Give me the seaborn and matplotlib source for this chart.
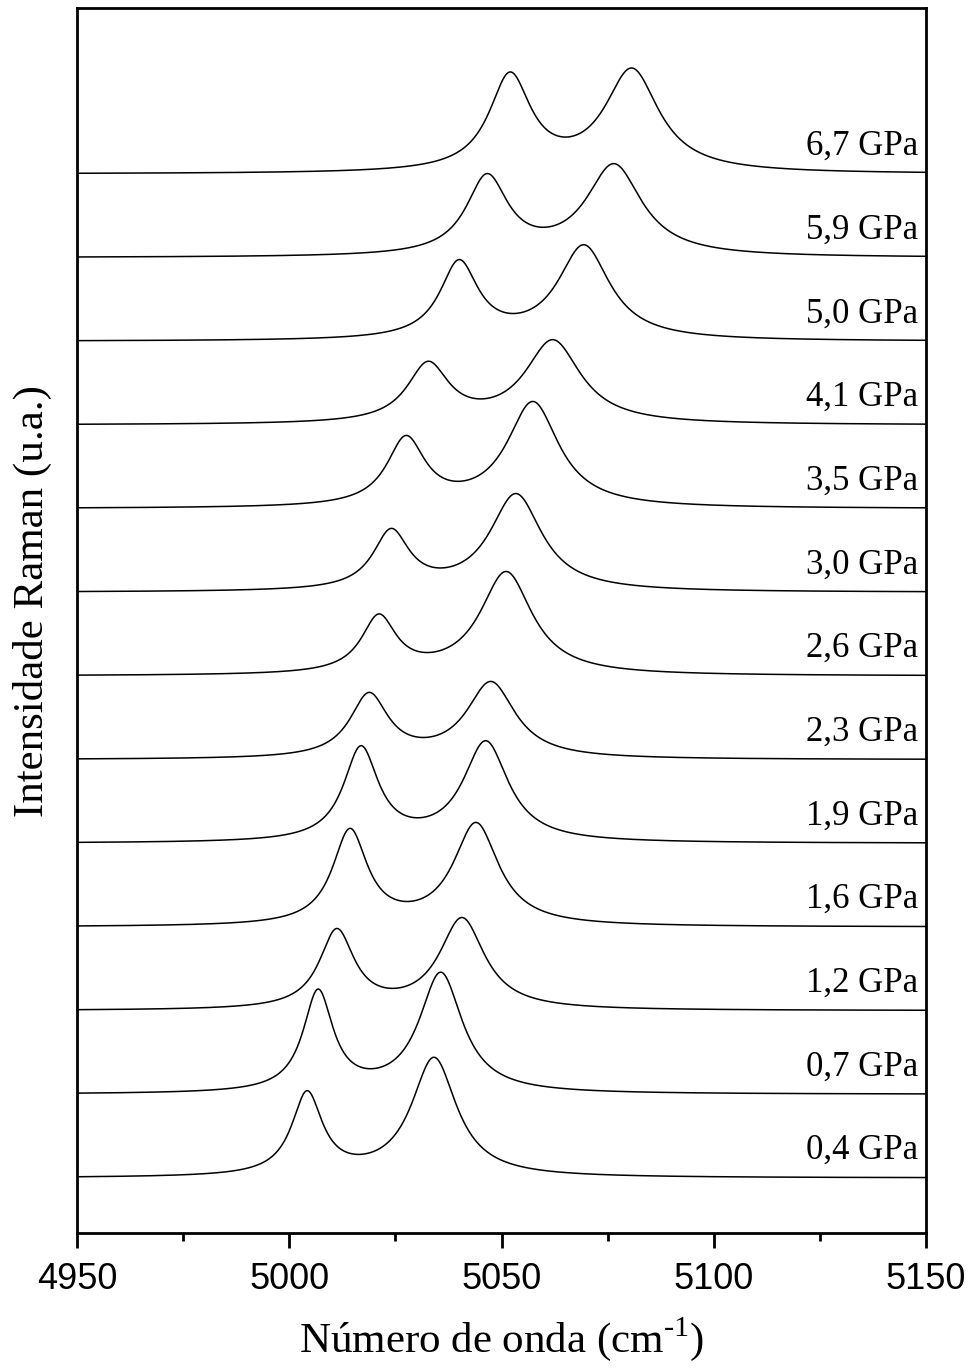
"""
Raman spectra under pressure: stacked plot of the two bands near 5000-5080 cm-1.
"""

import numpy as np
import pandas as pd
import matplotlib

matplotlib.use("Agg")
import matplotlib.pyplot as plt
import seaborn as sns
from matplotlib.ticker import MultipleLocator

# Pressures (GPa) and labels, bottom to top
pressures = [0.4, 0.7, 1.2, 1.6, 1.9, 2.3, 2.6, 3.0, 3.5, 4.1, 5.0, 5.9, 6.7]
labels = ["0,4 GPa", "0,7 GPa", "1,2 GPa", "1,6 GPa", "1,9 GPa", "2,3 GPa", "2,6 GPa",
          "3,0 GPa", "3,5 GPa", "4,1 GPa", "5,0 GPa", "5,9 GPa", "6,7 GPa"]

# Band 1 (lower wavenumber): centre (cm-1), amplitude (u.a.), half width (cm-1)
pos1 = [5004.2, 5006.8, 5011.2, 5014.3, 5016.9, 5018.8, 5021.1, 5024.0, 5027.5, 5032.7, 5040.0, 5046.6, 5052.0]
amp1 = [82, 100, 78, 94, 93, 63, 56, 58, 67, 58, 76, 78, 95]
wid1 = [4.4, 4.3, 5.0, 5.0, 5.0, 5.5, 5.0, 5.2, 5.5, 6.0, 5.5, 6.0, 6.0]

# Band 2 (higher wavenumber)
pos2 = [5034.1, 5035.7, 5040.7, 5044.0, 5046.3, 5047.5, 5051.1, 5053.4, 5057.4, 5062.1, 5069.4, 5076.5, 5080.7]
amp2 = [119, 120, 91, 102, 100, 76, 103, 97, 105, 83, 94, 91, 102]
wid2 = [6.5, 6.2, 6.5, 6.5, 6.5, 7.0, 7.5, 7.5, 7.5, 8.0, 7.5, 8.0, 7.8]

OFFSET0 = 55
STEP = 83.67


def lorentz(x, x0, a, g):
    return a / (1 + ((x - x0) / g) ** 2)


def build_frame():
    x = np.linspace(4950, 5150, 1601)
    frames = []
    for i, p in enumerate(pressures):
        y = lorentz(x, pos1[i], amp1[i], wid1[i]) + lorentz(x, pos2[i], amp2[i], wid2[i])
        frames.append(pd.DataFrame({"wn": x, "I": y + OFFSET0 + i * STEP, "P": p}))
    return pd.concat(frames, ignore_index=True)


sns.set_style("ticks")
plt.rcParams["font.family"] = ["Liberation Serif", "DejaVu Serif"]
plt.rcParams["mathtext.fontset"] = "custom"
plt.rcParams["mathtext.rm"] = "Liberation Serif"
plt.rcParams["text.color"] = "black"
plt.rcParams["axes.labelcolor"] = "black"
plt.rcParams["axes.edgecolor"] = "black"
plt.rcParams["xtick.color"] = "black"

df = build_frame()

fig = plt.figure(figsize=(9.74, 13.69), dpi=100)
ax = fig.add_axes([77 / 974, 1 - 1233 / 1369, 849 / 974, 1225 / 1369])

sns.lineplot(data=df, x="wn", y="I", units="P", estimator=None,
             color="black", linewidth=1.1, ax=ax, legend=False)

for i, lab in enumerate(labels):
    ax.text(5148.2, OFFSET0 + i * STEP + 19, lab, ha="right", va="baseline", fontsize=25)

ax.set_xlim(4950, 5150)
ax.set_ylim(0, 1225)
ax.xaxis.set_major_locator(MultipleLocator(50))
ax.xaxis.set_minor_locator(MultipleLocator(25))
ax.set_yticks([])
for lab in ax.get_xticklabels():
    lab.set_family(["Liberation Sans", "DejaVu Sans"])
ax.tick_params(axis="x", which="major", direction="out", length=11, width=2,
               labelsize=26, pad=10)
ax.tick_params(axis="x", which="minor", direction="out", length=6, width=2)
for sp in ax.spines.values():
    sp.set_linewidth(2)
    sp.set_visible(True)

ax.set_xlabel(r"Número de onda (cm$^{\text{-}1}$)", fontsize=31, labelpad=13)
ax.set_ylabel("Intensidade Raman (u.a.)", fontsize=31)
ax.yaxis.set_label_coords(-0.029, 0.516)

fig.savefig("out.png", dpi=100)
